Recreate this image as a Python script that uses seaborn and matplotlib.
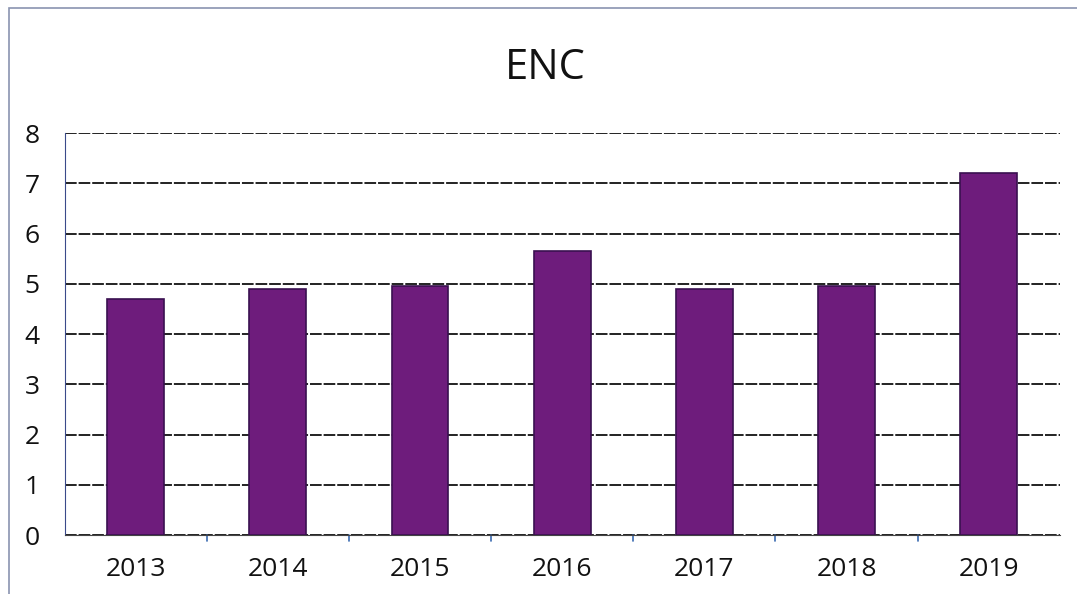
import numpy as np
import pandas as pd
import matplotlib.pyplot as plt
import seaborn as sn
from matplotlib.patches import Rectangle

years = ['2013', '2014', '2015', '2016', '2017', '2018', '2019']
enc = [4.7, 4.9, 4.95, 5.65, 4.9, 4.95, 7.2]

sn.set_style("white")
plt.rcParams['font.family'] = ['Open Sans', 'DejaVu Sans']

fig = plt.figure(figsize=(10.77, 5.94), dpi=100)
ax = fig.add_axes([0.060, 0.099, 0.924, 0.677])

df = pd.DataFrame({'anno': years, 'ENC': enc})
sn.barplot(data=df, x='anno', y='ENC', color='#6e1c7c', width=0.4,
           edgecolor='#3a1050', linewidth=1.2, saturation=1, ax=ax, zorder=3)

ax.set_ylim(0, 8)
ax.set_yticks(range(0, 9))
ax.set_xlim(-0.5, len(years) - 0.5)
ax.yaxis.grid(True, color='#222222', linestyle=(0, (6, 1)), linewidth=1.4, zorder=0)
ax.set_axisbelow(True)
for s in ['top', 'right']:
    ax.spines[s].set_visible(False)
ax.spines['left'].set_color('#3a4a8a')
ax.spines['bottom'].set_color('#444444')
ax.set_xlabel('')
ax.set_ylabel('')
ax.tick_params(axis='both', labelsize=19, colors='#111111', length=0)
ax.tick_params(axis='x', pad=16)
ax.tick_params(axis='y', pad=18)

# tick marks between categories
for b in np.arange(0.5, len(years) - 1, 1.0):
    ax.plot([b, b], [0, -0.12], color='#3a6ab0', lw=1.2, clip_on=False)

fig.text(0.506, 0.885, 'ENC', ha='center', va='center', fontsize=30, color='#111111')

# outer chart frame
fig.patches.append(Rectangle((0.008, -0.02), 1.1, 1.006, transform=fig.transFigure,
                             fill=False, edgecolor='#8a93b0', linewidth=1.2))

plt.savefig('out.png', dpi=100)
